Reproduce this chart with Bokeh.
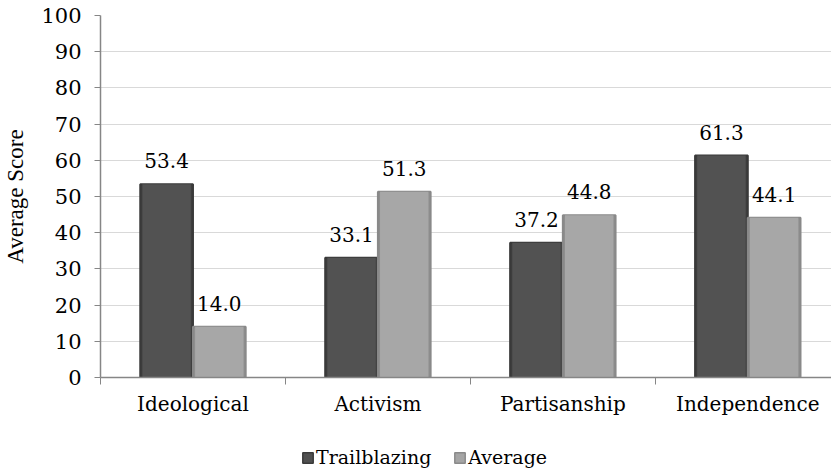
from bokeh.plotting import figure
from bokeh.models import Range1d, FixedTicker, ColumnDataSource, Legend, LegendItem, LabelSet
from bokeh.core.properties import value
from bokeh.layouts import column
from bokeh.embed import file_html
from bokeh.resources import INLINE

categories = ["Ideological", "Activism", "Partisanship", "Independence"]
trailblazing = [53.4, 33.1, 37.2, 61.3]
average = [14.0, 51.3, 44.8, 44.1]
y_ticks = [0, 10, 20, 30, 40, 50, 60, 70, 80, 90, 100]
series_names = ["Trailblazing", "Average"]

FONT = "DejaVu Serif"
FS = "20px"
px_per_cat = 185.7
left = 97
W = 831

centers = [i + 0.5 for i in range(len(categories))]
off = 0.1425
bw = 0.285

p = figure(width=W, height=424, output_backend="svg", toolbar_location=None,
           x_range=Range1d(0, (W - left) / px_per_cat), y_range=Range1d(0, 100),
           min_border_left=left, min_border_right=0, min_border_top=15, min_border_bottom=47)
p.outline_line_color = None
p.background_fill_color = "white"

src = ColumnDataSource(dict(
    xt=[c - off for c in centers], xa=[c + off for c in centers],
    t=trailblazing, a=average,
    tl=[f"{v:.1f}" for v in trailblazing], al=[f"{v:.1f}" for v in average],
))

p.vbar(x="xt", top="t", width=bw, bottom=0, source=src, fill_color="#3e3e3e", line_color="#393939", line_width=2)
p.vbar(x="xt", top="t", width=bw * 0.92, bottom=0, source=src, fill_color="#525252", line_color=None)
p.vbar(x="xa", top="a", width=bw, bottom=0, source=src, fill_color="#8e8e8e", line_color="#898989", line_width=2)
p.vbar(x="xa", top="a", width=bw * 0.92, bottom=0, source=src, fill_color="#a7a7a7", line_color=None)

for col, y, lab in (("xt", "t", "tl"), ("xa", "a", "al")):
    p.add_layout(LabelSet(x=col, y=y, text=lab, source=src, text_align="center",
                          text_baseline="alphabetic", y_offset=16, text_font=value(FONT),
                          text_font_size=value("20px"), text_color="black"))

# axes
p.yaxis.ticker = FixedTicker(ticks=y_ticks)
p.yaxis.axis_label = "Average Score"
p.yaxis.axis_label_text_font = "Times"
p.yaxis.axis_label_text_font_style = "normal"
p.yaxis.axis_label_text_font_size = "23px"
p.yaxis.axis_label_text_color = "black"
p.yaxis.axis_label_standoff = 10
p.yaxis.major_label_text_font = FONT
p.yaxis.major_label_text_font_size = "21px"
p.yaxis.major_label_text_color = "black"
p.yaxis.major_label_standoff = 13
p.yaxis.axis_line_color = "#868686"
p.yaxis.axis_line_width = 1.5
p.yaxis.major_tick_line_color = "#868686"
p.yaxis.major_tick_out = 6
p.yaxis.major_tick_in = 0
p.yaxis.minor_tick_line_color = None

p.xaxis.ticker = FixedTicker(ticks=centers, minor_ticks=[0, 1, 2, 3, 4])
p.xaxis.major_label_overrides = {c: n for c, n in zip(centers, categories)}
p.xaxis.major_label_text_font = FONT
p.xaxis.major_label_text_font_size = FS
p.xaxis.major_label_text_color = "black"
p.xaxis.major_label_standoff = 7
p.xaxis.major_tick_line_color = None
p.xaxis.major_tick_out = 7
p.xaxis.minor_tick_line_color = "#868686"
p.xaxis.minor_tick_out = 7
p.xaxis.minor_tick_in = 0
p.xaxis.axis_line_color = "#868686"
p.xaxis.axis_line_width = 1.5

p.xgrid.grid_line_color = None
p.ygrid.grid_line_color = "#d9d9d9"
p.ygrid.ticker = FixedTicker(ticks=y_ticks)

# legend strip (slightly taller than the window so edge artifacts fall outside)
lg = figure(width=W, height=51, output_backend="svg", toolbar_location=None,
            x_range=Range1d(0, 1), y_range=Range1d(0, 1),
            x_axis_location=None, y_axis_location=None,
            min_border_left=0, min_border_right=0, min_border_top=0, min_border_bottom=0)
lg.outline_line_color = None
lg.grid.grid_line_color = None
d1 = lg.vbar(x=[0.9], top=[-3], bottom=[-4], width=0.0001,
             fill_color="#505050", line_color="#3a3a3a", line_width=1.5)
d2 = lg.vbar(x=[0.9], top=[-3], bottom=[-4], width=0.0001,
             fill_color="#a5a5a5", line_color="#8a8a8a", line_width=1.5)
legend = Legend(items=[LegendItem(label=series_names[0], renderers=[d1]),
                       LegendItem(label=series_names[1], renderers=[d2])],
                orientation="horizontal", location=(201, 7),
                label_text_font=FONT, label_text_font_size="19px", label_text_color="black",
                glyph_width=13, glyph_height=13, spacing=22, label_standoff=2,
                border_line_color=None, background_fill_alpha=0, padding=0, margin=0)
lg.add_layout(legend, "center")

layout = column(p, lg, spacing=0)
open("out.html", "w").write(file_html(layout, INLINE))
